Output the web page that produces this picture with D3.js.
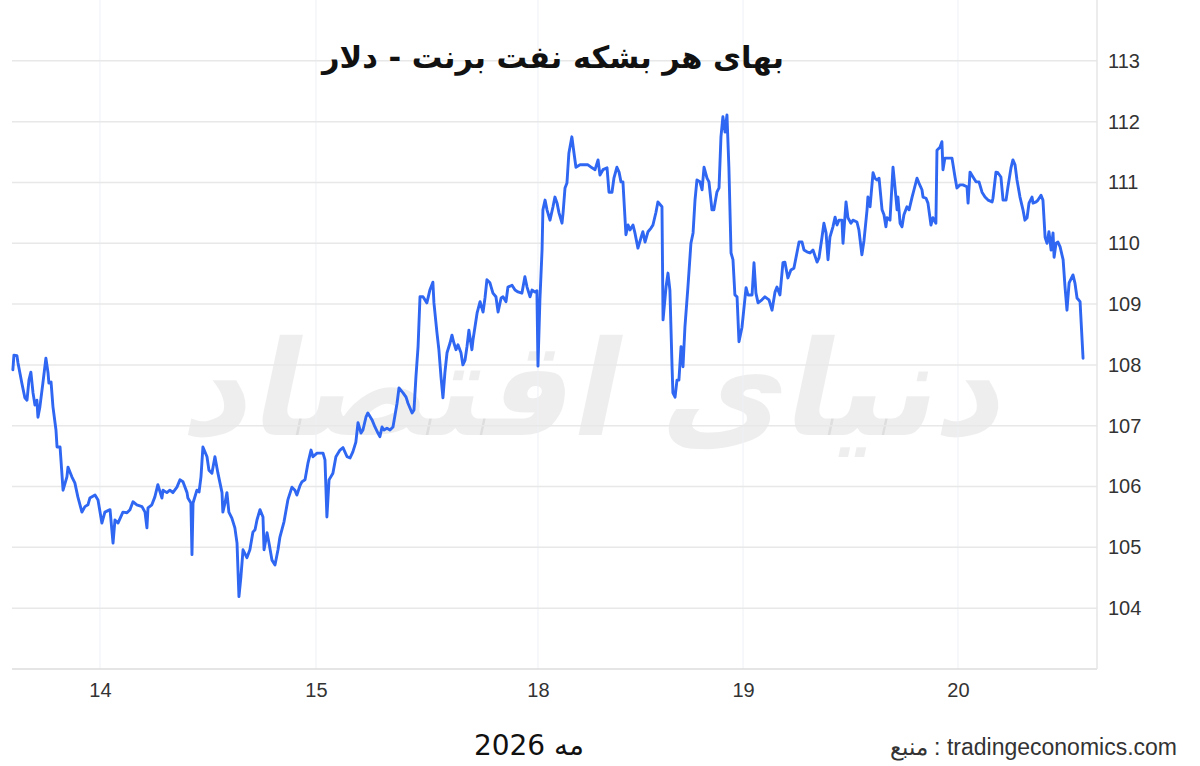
<!DOCTYPE html>
<html>
<head>
<meta charset="utf-8">
<script src="https://cdn.jsdelivr.net/npm/d3@7"></script>
<style>
  html, body { margin: 0; padding: 0; background: #fff; }
  svg { display: block; }
</style>
</head>
<body>
<svg id="chart" width="1200" height="766"></svg>
<script>
// ---- data ----
const titleText = "بهای هر بشکه نفت برنت - دلار";
const xAxisTitle = "مه 2026";
const sourceText = "منبع : tradingeconomics.com";
const watermarkText = "دنیای اقتصاد";

// x tick positions (trading-day units, 14 May = 0) and their labels
const xTickValues = [0, 1.007, 2.042, 2.998, 4.0];
const xTickLabels = ["14", "15", "18", "19", "20"];
const yTickValues = [104, 105, 106, 107, 108, 109, 110, 111, 112, 113];

// time in trading-day units
const times = [
-0.406,-0.401,-0.387,-0.382,-0.364,-0.350,-0.340,-0.331,-0.322,-0.312,
-0.303,-0.294,-0.289,-0.280,-0.266,-0.252,-0.242,-0.238,-0.228,-0.219,
-0.205,-0.200,-0.186,-0.172,-0.154,-0.149,-0.131,-0.117,-0.103,-0.084,
-0.070,-0.056,-0.047,-0.023,-0.009,0.009,0.023,0.047,0.061,0.070,
0.084,0.107,0.126,0.140,0.154,0.172,0.196,0.210,0.219,0.224,
0.242,0.256,0.270,0.289,0.294,0.312,0.326,0.340,0.359,0.373,
0.387,0.406,0.410,0.424,0.429,0.434,0.452,0.462,0.471,0.480,
0.499,0.508,0.522,0.536,0.550,0.569,0.573,0.583,0.592,0.601,
0.615,0.629,0.639,0.648,0.657,0.667,0.685,0.699,0.713,0.723,
0.732,0.746,0.760,0.765,0.779,0.788,0.802,0.816,0.830,0.839,
0.858,0.876,0.895,0.909,0.918,0.932,0.942,0.956,0.970,0.984,
0.993,1.012,1.026,1.040,1.049,1.058,1.068,1.086,1.100,1.119,
1.133,1.152,1.166,1.179,1.193,1.203,1.217,1.226,1.240,1.249,
1.268,1.282,1.296,1.305,1.315,1.324,1.338,1.352,1.366,1.385,
1.394,1.413,1.427,1.436,1.455,1.464,1.473,1.483,1.492,1.506,
1.524,1.538,1.552,1.557,1.571,1.580,1.590,1.599,1.608,1.618,
1.632,1.641,1.650,1.660,1.669,1.683,1.692,1.702,1.711,1.720,
1.734,1.739,1.758,1.772,1.786,1.795,1.804,1.818,1.832,1.846,
1.856,1.870,1.879,1.893,1.902,1.921,1.935,1.949,1.967,1.981,
1.991,2.005,2.014,2.028,2.037,2.042,2.051,2.061,2.065,2.075,
2.084,2.098,2.112,2.121,2.131,2.140,2.154,2.159,2.168,2.177,
2.186,2.200,2.210,2.219,2.238,2.261,2.275,2.294,2.308,2.322,
2.331,2.345,2.364,2.373,2.387,2.396,2.410,2.420,2.429,2.438,
2.452,2.462,2.471,2.485,2.494,2.508,2.522,2.531,2.541,2.555,
2.569,2.578,2.592,2.601,2.620,2.625,2.639,2.648,2.657,2.667,
2.671,2.681,2.690,2.699,2.709,2.718,2.727,2.741,2.755,2.765,
2.774,2.783,2.797,2.807,2.816,2.830,2.839,2.853,2.862,2.876,
2.886,2.895,2.904,2.914,2.923,2.932,2.942,2.951,2.960,2.970,
2.979,2.993,2.998,3.012,3.021,3.040,3.049,3.058,3.068,3.086,
3.100,3.119,3.133,3.147,3.156,3.170,3.184,3.193,3.207,3.221,
3.235,3.249,3.259,3.273,3.282,3.296,3.310,3.324,3.343,3.352,
3.366,3.375,3.385,3.394,3.403,3.417,3.427,3.436,3.445,3.459,
3.464,3.478,3.487,3.501,3.510,3.529,3.538,3.552,3.562,3.576,
3.580,3.590,3.604,3.613,3.622,3.632,3.646,3.655,3.664,3.669,
3.683,3.697,3.706,3.716,3.720,3.730,3.739,3.748,3.762,3.772,
3.786,3.795,3.809,3.818,3.832,3.837,3.851,3.860,3.874,3.883,
3.897,3.902,3.916,3.925,3.930,3.939,3.953,3.972,3.986,3.995,
4.009,4.023,4.042,4.047,4.056,4.070,4.084,4.098,4.112,4.126,
4.140,4.159,4.163,4.177,4.186,4.200,4.210,4.224,4.233,4.247,
4.256,4.266,4.275,4.289,4.303,4.312,4.322,4.331,4.345,4.350,
4.364,4.373,4.387,4.396,4.406,4.415,4.424,4.434,4.443,4.448,
4.457,4.466,4.476,4.490,4.499,4.508,4.518,4.536,4.545,4.555,
4.569,4.583
];

// Brent price, USD per barrel
const prices = [
107.92,108.16,108.15,108.03,107.70,107.46,107.42,107.75,107.88,107.54,
107.34,107.42,107.14,107.31,107.70,108.11,107.87,107.70,107.72,107.31,
106.93,106.65,106.65,105.94,106.16,106.32,106.16,106.06,105.83,105.58,
105.67,105.70,105.81,105.86,105.78,105.40,105.58,105.62,105.07,105.45,
105.40,105.58,105.57,105.62,105.75,105.70,105.67,105.58,105.32,105.65,
105.70,105.83,106.03,105.81,105.94,105.90,105.94,105.90,105.99,106.11,
106.08,105.90,105.81,105.73,104.88,105.73,105.94,105.91,106.16,106.65,
106.49,106.27,106.22,106.49,106.22,105.90,105.58,105.73,105.90,105.58,
105.48,105.32,105.07,104.19,104.51,104.96,104.83,104.96,105.25,105.29,
105.45,105.62,105.50,104.96,105.24,105.07,104.79,104.71,104.96,105.17,
105.42,105.78,105.99,105.94,105.86,106.01,106.08,106.11,106.39,106.60,
106.49,106.55,106.55,106.55,106.44,105.50,106.11,106.22,106.49,106.60,
106.64,106.49,106.47,106.57,106.73,107.05,106.88,106.93,107.14,107.21,
107.10,106.98,106.88,106.82,106.98,106.93,106.96,106.93,106.98,107.37,
107.62,107.54,107.47,107.37,107.21,107.26,107.80,108.30,109.12,109.12,
109.02,109.23,109.36,109.02,108.53,108.25,107.80,107.46,107.87,108.20,
108.36,108.49,108.36,108.25,108.33,108.20,108.00,108.08,108.30,108.57,
108.25,108.41,108.85,109.04,108.87,109.10,109.40,109.35,109.18,109.12,
108.87,109.10,109.12,109.04,109.28,109.31,109.23,109.20,109.18,109.45,
109.28,109.12,109.23,109.20,109.22,107.98,109.07,109.89,110.55,110.71,
110.55,110.38,110.60,110.76,110.66,110.50,110.33,110.50,110.91,110.99,
111.48,111.75,111.48,111.25,111.29,111.29,111.29,111.24,111.21,111.37,
111.12,111.21,111.24,110.84,110.84,111.07,111.25,111.17,111.01,111.01,
110.14,110.30,110.22,110.30,110.17,109.92,110.09,110.19,110.02,110.19,
110.25,110.30,110.51,110.68,110.60,108.74,109.28,109.51,109.23,107.97,
107.54,107.47,107.75,107.75,108.30,107.97,108.62,109.28,110.00,110.17,
110.71,111.04,111.01,110.88,111.25,111.07,111.01,110.55,110.55,110.84,
110.91,111.75,112.08,111.83,112.11,111.25,109.84,109.73,109.15,109.12,
108.38,108.62,108.79,109.27,109.15,109.15,109.68,109.18,109.02,109.07,
109.12,109.07,108.90,109.20,109.28,109.15,109.68,109.69,109.43,109.56,
109.59,109.84,110.02,110.02,109.89,109.86,109.84,109.89,109.69,109.76,
110.10,110.33,110.17,109.73,110.10,110.27,110.43,110.30,110.38,110.38,
110.00,110.68,110.42,110.33,110.38,110.35,110.22,109.81,110.05,110.55,
110.76,110.60,111.16,111.07,111.04,111.07,110.55,110.47,110.27,110.42,
110.38,111.25,110.93,110.55,110.76,110.33,110.27,110.47,110.60,110.55,
110.76,110.88,111.07,110.99,110.88,110.76,110.74,110.66,110.30,110.42,
110.33,111.53,111.58,111.67,111.21,111.40,111.40,111.40,111.09,110.91,
110.96,110.96,110.93,110.66,111.17,111.09,111.01,111.01,110.84,110.76,
110.71,110.68,110.74,111.17,111.16,111.09,110.71,110.71,110.93,111.24,
111.37,111.29,111.04,110.76,110.55,110.38,110.42,110.66,110.76,110.66,
110.68,110.71,110.79,110.71,110.10,110.00,110.19,109.89,110.17,109.77,
110.00,110.02,109.94,109.73,109.28,108.90,109.35,109.48,109.35,109.10,
109.04,108.11
];

// ---- drawing ----
const svg = d3.select("#chart");
const plotLeft = 12, plotRight = 1097, plotTop = 0, plotBottom = 669;

const x = d3.scaleLinear().domain([-0.410, 4.648]).range([plotLeft, plotRight]);
const y = d3.scaleLinear().domain([103, 114]).range([plotBottom, plotTop]);

const data = times.map((t, i) => ({ t, v: prices[i] }));

// watermark
svg.append("text")
  .attr("transform", "translate(590,435) skewX(-12)")
  .attr("text-anchor", "middle")
  .attr("direction", "rtl")
  .attr("font-family", "DejaVu Sans, sans-serif")
  .attr("font-weight", "bold")
  .attr("font-size", 132)
  .attr("fill", "#000")
  .attr("fill-opacity", 0.065)
  .text(watermarkText);

// vertical gridlines
svg.append("g").selectAll("line").data(xTickValues).join("line")
  .attr("x1", d => x(d)).attr("x2", d => x(d))
  .attr("y1", plotTop).attr("y2", plotBottom)
  .attr("stroke", "#edf0f5").attr("stroke-width", 1);

// horizontal gridlines
const gridVals = [103].concat(yTickValues);
svg.append("g").selectAll("line").data(gridVals).join("line")
  .attr("x1", plotLeft).attr("x2", plotRight)
  .attr("y1", d => y(d)).attr("y2", d => y(d))
  .attr("stroke", d => d === 103 ? "#dcdcdc" : "#e8e8e8")
  .attr("stroke-width", 1.5);

// right axis line
svg.append("line")
  .attr("x1", plotRight).attr("x2", plotRight)
  .attr("y1", plotTop).attr("y2", plotBottom)
  .attr("stroke", "#e6e6e6").attr("stroke-width", 1.5);

// y axis labels (right)
const yAxis = d3.axisRight(y).tickValues(yTickValues).tickSize(0).tickPadding(11)
  .tickFormat(d3.format("d"));
const gy = svg.append("g").attr("transform", `translate(${plotRight},0)`).call(yAxis);
gy.select(".domain").remove();
gy.selectAll("text")
  .attr("font-family", "Liberation Sans, Arial, sans-serif")
  .attr("font-size", 20).attr("fill", "#333");

// x axis labels
const xAxis = d3.axisBottom(x).tickValues(xTickValues).tickSize(0).tickPadding(14)
  .tickFormat((d, i) => xTickLabels[i]);
const gx = svg.append("g").attr("transform", `translate(0,${plotBottom})`).call(xAxis);
gx.select(".domain").remove();
gx.selectAll("text")
  .attr("font-family", "Liberation Sans, Arial, sans-serif")
  .attr("font-size", 20).attr("fill", "#333");

// price line
const line = d3.line().x(d => x(d.t)).y(d => y(d.v)).curve(d3.curveLinear);
svg.append("path").datum(data)
  .attr("d", line)
  .attr("fill", "none")
  .attr("stroke", "#2f67f2")
  .attr("stroke-width", 2.9)
  .attr("stroke-linejoin", "round")
  .attr("stroke-linecap", "round");

// title
svg.append("text")
  .attr("x", 553).attr("y", 68)
  .attr("text-anchor", "middle")
  .attr("direction", "rtl")
  .attr("font-family", "DejaVu Sans, sans-serif")
  .attr("font-weight", "bold")
  .attr("font-size", 30.5)
  .attr("fill", "#111")
  .text(titleText);

// x axis title
svg.append("text")
  .attr("x", 529).attr("y", 755)
  .attr("text-anchor", "middle")
  .attr("direction", "rtl")
  .attr("font-family", "DejaVu Sans, sans-serif")
  .attr("font-size", 28)
  .attr("fill", "#111")
  .text(xAxisTitle);

// source
svg.append("text")
  .attr("x", 1177).attr("y", 755)
  .attr("text-anchor", "end")
  .attr("direction", "ltr")
  .attr("font-family", "Liberation Sans, Arial, sans-serif")
  .attr("font-size", 23)
  .attr("fill", "#333")
  .text(sourceText);
</script>
</body>
</html>
